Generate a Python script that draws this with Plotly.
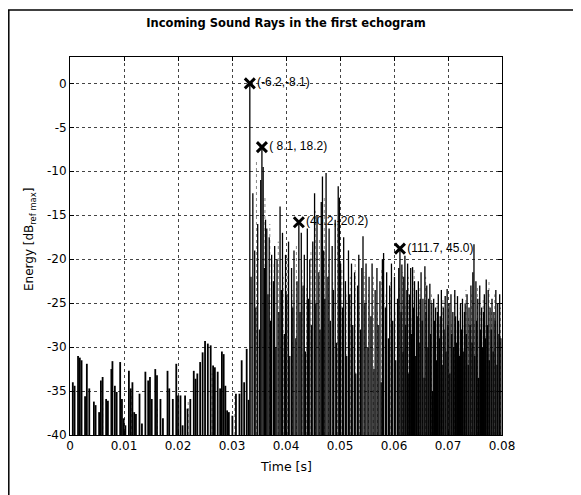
import plotly.graph_objects as go

# ---------------- data ----------------
# early (pre-direct) arrivals: time [s], level [dB]
t_pre = [0.00052, 0.00085, 0.00149, 0.00182, 0.00214, 0.00279, 0.00312, 0.00357, 0.00442, 0.00474,
         0.00539, 0.00572, 0.00604, 0.00669, 0.00702, 0.00766, 0.00786, 0.00831, 0.00864, 0.00929,
         0.00962, 0.00994, 0.01026, 0.01091, 0.01124, 0.01156, 0.01189, 0.01221, 0.01287, 0.01332,
         0.01396, 0.01448, 0.01481, 0.01514, 0.01579, 0.01611, 0.01675, 0.01721, 0.01806, 0.01838,
         0.01904, 0.01968, 0.02000, 0.02046, 0.02085, 0.02131, 0.02176, 0.02228, 0.02292, 0.02325,
         0.02358, 0.02410, 0.02456, 0.02501, 0.02552, 0.02605, 0.02650, 0.02683, 0.02735, 0.02780,
         0.02813, 0.02846, 0.02877, 0.02910, 0.02942, 0.03007, 0.03073, 0.03138, 0.03179, 0.03225,
         0.03272, 0.03307]
db_pre = [-34.0, -34.4, -31.0, -31.2, -31.5, -35.6, -31.9, -34.7, -36.2, -36.6,
          -37.4, -33.8, -33.4, -35.9, -36.1, -32.5, -31.6, -34.4, -35.1, -31.7,
          -35.9, -38.1, -38.9, -32.7, -34.7, -34.0, -37.4, -37.6, -35.3, -38.7,
          -32.8, -33.8, -33.4, -35.9, -32.5, -33.2, -35.9, -38.1, -32.7, -34.7,
          -35.9, -31.9, -35.5, -35.5, -38.9, -35.5, -37.0, -35.9, -32.7, -33.6,
          -33.0, -31.7, -30.6, -29.3, -29.6, -29.8, -32.1, -32.3, -32.8, -34.7,
          -30.5, -30.8, -34.4, -37.2, -37.4, -37.8, -35.3, -35.3, -31.5, -34.0,
          -30.2, -36.0]

# direct sound and the reflections after it
t_dense = [0.03330, 0.03352, 0.03386, 0.03420, 0.03442, 0.03476, 0.03509, 0.03532, 0.03554, 0.03577,
           0.03599, 0.03621, 0.03644, 0.03666, 0.03689, 0.03711, 0.03734, 0.03767, 0.03790, 0.03812,
           0.03834, 0.03868, 0.03890, 0.03913, 0.03935, 0.03969, 0.03991, 0.04014, 0.04047, 0.04070,
           0.04103, 0.04126, 0.04148, 0.04182, 0.04204, 0.04238, 0.04260, 0.04283, 0.04316, 0.04339,
           0.04361, 0.04395, 0.04417, 0.04440, 0.04473, 0.04496, 0.04529, 0.04552, 0.04574, 0.04608,
           0.04630, 0.04653, 0.04675, 0.04698, 0.04720, 0.04742, 0.04776, 0.04798, 0.04821, 0.04855,
           0.04877, 0.04911, 0.04933, 0.04967, 0.04989, 0.05011, 0.05045, 0.05068, 0.05101, 0.05124,
           0.05157, 0.05180, 0.05213, 0.05236, 0.05270, 0.05292, 0.05326, 0.05348, 0.05382, 0.05404,
           0.05426, 0.05460, 0.05482, 0.05516, 0.05538, 0.05572, 0.05594, 0.05628, 0.05651, 0.05684,
           0.05707, 0.05740, 0.05763, 0.05785, 0.05807, 0.05841, 0.05864, 0.05897, 0.05920, 0.05953,
           0.05976, 0.06009, 0.06032, 0.06066, 0.06088, 0.06110, 0.06131, 0.06146, 0.06167, 0.06181,
           0.06202, 0.06217, 0.06238, 0.06252, 0.06273, 0.06288, 0.06309, 0.06323, 0.06344, 0.06359,
           0.06380, 0.06394, 0.06416, 0.06430, 0.06451, 0.06465, 0.06486, 0.06501, 0.06522, 0.06536,
           0.06557, 0.06572, 0.06593, 0.06607, 0.06628, 0.06643, 0.06664, 0.06678, 0.06700, 0.06714,
           0.06735, 0.06749, 0.06771, 0.06785, 0.06806, 0.06820, 0.06842, 0.06856, 0.06877, 0.06892,
           0.06913, 0.06927, 0.06948, 0.06963, 0.06984, 0.06998, 0.07019, 0.07034, 0.07055, 0.07069,
           0.07090, 0.07105, 0.07126, 0.07140, 0.07161, 0.07176, 0.07197, 0.07211, 0.07232, 0.07247,
           0.07268, 0.07282, 0.07304, 0.07318, 0.07339, 0.07353, 0.07375, 0.07389, 0.07410, 0.07424,
           0.07446, 0.07460, 0.07481, 0.07495, 0.07517, 0.07531, 0.07552, 0.07566, 0.07588, 0.07602,
           0.07623, 0.07637, 0.07659, 0.07673, 0.07694, 0.07708, 0.07730, 0.07744, 0.07765, 0.07779,
           0.07801, 0.07815, 0.07836, 0.07850, 0.07872, 0.07886, 0.07907, 0.07921, 0.07943, 0.07957,
           0.07979]
db_dense = [0.0, -22.0, -12.5, -19.0, -25.5, -16.0, -28.0, -11.0, -7.25, -9.5,
            -21.0, -15.5, -16.5, -24.0, -17.5, -27.0, -19.5, -22.5, -18.5, -30.0,
            -20.0, -26.0, -14.0, -23.5, -17.0, -28.5, -19.5, -24.0, -18.0, -31.0,
            -21.0, -25.5, -19.0, -29.0, -22.5, -15.8, -26.0, -17.0, -23.0, -19.5,
            -30.5, -16.5, -24.5, -20.0, -27.5, -18.0, -12.5, -25.0, -15.0, -21.5,
            -28.0, -13.5, -10.6, -19.0, -24.5, -10.2, -22.0, -16.5, -27.0, -18.5,
            -23.5, -15.5, -29.5, -11.7, -13.0, -20.5, -25.5, -17.5, -22.5, -31.0,
            -19.0, -24.0, -20.5, -27.5, -21.5, -33.0, -23.0, -19.5, -28.0, -21.0,
            -17.4, -25.0, -20.5, -30.0, -22.0, -26.5, -20.5, -32.5, -23.5, -21.0,
            -27.5, -22.5, -34.0, -20.0, -19.3, -25.5, -21.5, -29.0, -23.0, -20.5,
            -27.0, -22.0, -31.5, -24.5, -21.0, -18.8, -26.0, -20.6, -30.5, -22.0,
            -19.6, -27.5, -23.5, -20.5, -33.0, -24.0, -21.0, -28.5, -20.9, -25.5,
            -22.5, -31.0, -23.5, -26.5, -22.5, -29.5, -24.5, -21.5, -27.0, -24.5,
            -33.5, -20.8, -26.0, -23.0, -30.0, -24.5, -22.8, -28.5, -25.0, -35.0,
            -24.5, -27.0, -25.5, -31.5, -26.0, -24.0, -29.0, -26.5, -23.5, -32.0,
            -25.5, -28.0, -24.2, -30.5, -23.4, -27.5, -25.0, -33.0, -24.0, -28.5,
            -26.0, -30.0, -23.5, -26.5, -29.5, -24.2, -27.0, -31.0, -25.0, -28.0,
            -24.5, -30.5, -26.0, -25.0, -28.5, -24.0, -32.0, -25.5, -27.5, -23.0,
            -29.5, -21.5, -18.3, -31.0, -22.5, -27.0, -24.5, -33.5, -23.0, -28.0,
            -25.5, -30.0, -26.0, -24.0, -29.0, -22.3, -27.5, -23.5, -31.5, -25.5,
            -28.0, -24.5, -30.5, -26.0, -27.0, -23.5, -32.0, -25.0, -28.5, -24.0,
            -29.0]

# faint (grey) arrivals
t_faint = [0.00175, 0.00605, 0.01141, 0.01618, 0.02189, 0.02631, 0.03050,
           0.03453, 0.03610, 0.03700, 0.03778, 0.03857, 0.03947, 0.04025, 0.04115, 0.04193, 0.04294,
           0.04384, 0.04462, 0.04541, 0.04619, 0.04709, 0.04787, 0.04866, 0.04955, 0.05034, 0.05112,
           0.05191, 0.05281, 0.05359, 0.05449, 0.05527, 0.05617, 0.05695, 0.05774, 0.05852, 0.05942,
           0.06020, 0.06099, 0.06160, 0.06209, 0.06266, 0.06316, 0.06373, 0.06423, 0.06479, 0.06529,
           0.06586, 0.06636, 0.06693, 0.06742, 0.06799, 0.06849, 0.06906, 0.06955, 0.07012, 0.07062,
           0.07119, 0.07169, 0.07226, 0.07275, 0.07332, 0.07382, 0.07439, 0.07489, 0.07545, 0.07595,
           0.07652, 0.07702, 0.07759, 0.07808, 0.07865, 0.07915, 0.07972]
db_faint = [-34.0, -36.0, -35.5, -37.0, -36.0, -33.0, -35.0,
            -8.7, -13.0, -16.0, -20.5, -18.0, -22.0, -19.5, -23.5, -18.5, -21.0,
            -23.0, -19.0, -14.5, -17.5, -13.0, -20.0, -22.5, -16.0, -21.0, -24.0,
            -22.0, -20.0, -25.0, -21.5, -23.5, -22.0, -26.0, -21.0, -24.0, -22.5,
            -26.0, -23.0, -21.5, -25.0, -22.0, -26.5, -21.0, -25.5, -23.0, -27.0,
            -22.0, -26.5, -24.0, -28.0, -25.0, -27.0, -24.5, -28.5, -25.5, -27.0,
            -24.0, -28.0, -25.5, -27.5, -23.5, -26.5, -24.0, -27.0, -23.0, -26.0,
            -24.5, -27.5, -22.5, -26.0, -24.0, -27.0, -25.5]

# marked rays (time, level, label)
mark_t = [0.0333, 0.03554, 0.04238, 0.0611]
mark_db = [0.0, -7.25, -15.8, -18.8]
mark_lbl = ["(-6.2,-8.1)", "(\u00a08.1, 18.2)", "(40.2,-20.2)", "(111.7, 45.0)"]

x_ticks = [0, 0.01, 0.02, 0.03, 0.04, 0.05, 0.06, 0.07, 0.08]
x_ticktext = ["0", "0.01", "0.02", "0.03", "0.04", "0.05", "0.06", "0.07", "0.08"]
y_ticks = [0, -5, -10, -15, -20, -25, -30, -35, -40]
y_ticktext = ["0", "-5", "-10", "-15", "-20", "-25", "-30", "-35", "-40"]
FLOOR = -40


def stems(ts, vs):
    xs, ys = [], []
    for t, v in zip(ts, vs):
        xs += [t, t, None]
        ys += [FLOOR, v, None]
    return xs, ys


fig = go.Figure()
fx, fy = stems(t_faint, db_faint)
fig.add_trace(go.Scatter(x=fx, y=fy, mode="lines",
                         line=dict(color="#8a8a8a", width=1, dash="dot"),
                         hoverinfo="skip", showlegend=False))
px, py = stems(t_pre, db_pre)
fig.add_trace(go.Scatter(x=px, y=py, mode="lines",
                         line=dict(color="black", width=1.8),
                         hoverinfo="skip", showlegend=False))
dx, dy = stems(t_dense, db_dense)
fig.add_trace(go.Scatter(x=dx, y=dy, mode="lines",
                         line=dict(color="black", width=1.3),
                         hoverinfo="skip", showlegend=False))
fig.add_trace(go.Scatter(x=mark_t, y=mark_db, mode="markers+text",
                         marker=dict(symbol="x-thin", size=10,
                                     line=dict(color="black", width=3)),
                         text=mark_lbl, textposition="middle right",
                         textfont=dict(family="Liberation Sans, Arial", size=12, color="black"),
                         cliponaxis=False, showlegend=False))

# the page adds an 8px body margin, so the figure is 8px smaller than the window
W, H = 573, 487
L, R, T, B = 62, 79, 49, 60
pw, ph = W - L - R, H - T - B


def pxx(x):
    return (x - L) / pw


def pyy(y):
    return (H - B - y) / ph


fig.update_layout(
    width=W, height=H,
    margin=dict(l=L, r=R, t=T, b=B),
    paper_bgcolor="white", plot_bgcolor="white",
    font=dict(family="DejaVu Sans, Verdana", size=12, color="black"),
    title=dict(text="<b>Incoming Sound Rays in the first echogram</b>",
               x=0.5, xref="paper", xanchor="center",
               y=1 - 15 / H, yref="container", yanchor="middle",
               font=dict(family="DejaVu Sans, Verdana", size=11.5, color="black")),
    xaxis=dict(range=[0, 0.08], tickvals=x_ticks, ticktext=x_ticktext,
               showline=True, mirror="ticks", linecolor="black", linewidth=1,
               ticks="inside", ticklen=4, tickcolor="black",
               showgrid=True, gridcolor="#444444", griddash="dot", gridwidth=1,
               zeroline=False, tickfont=dict(size=12)),
    yaxis=dict(range=[-40, 3], tickvals=y_ticks, ticktext=y_ticktext,
               showline=True, mirror="ticks", linecolor="black", linewidth=1,
               ticks="inside", ticklen=4, tickcolor="black",
               showgrid=True, gridcolor="#444444", griddash="dot", gridwidth=1,
               zeroline=False, tickfont=dict(size=12)),
    annotations=[
        dict(text="Energy [dB<sub>ref max</sub>]", textangle=-90,
             xref="paper", yref="paper", x=pxx(22), y=pyy(232),
             xanchor="center", yanchor="middle", showarrow=False,
             font=dict(family="DejaVu Sans, Verdana", size=12, color="black")),
        dict(text="Time [s]", xref="paper", yref="paper",
             x=0.5, y=pyy(458), xanchor="center", yanchor="middle",
             showarrow=False,
             font=dict(family="DejaVu Sans, Verdana", size=12.5, color="black")),
    ],
    shapes=[
        dict(type="line", xref="paper", yref="paper",
             x0=pxx(0.8), x1=pxx(0.8), y0=pyy(2), y1=pyy(H),
             line=dict(color="black", width=1.5)),
        dict(type="line", xref="paper", yref="paper",
             x0=pxx(0), x1=pxx(W), y0=pyy(2), y1=pyy(2),
             line=dict(color="black", width=1.5)),
    ],
)

fig.write_html("out.html")
